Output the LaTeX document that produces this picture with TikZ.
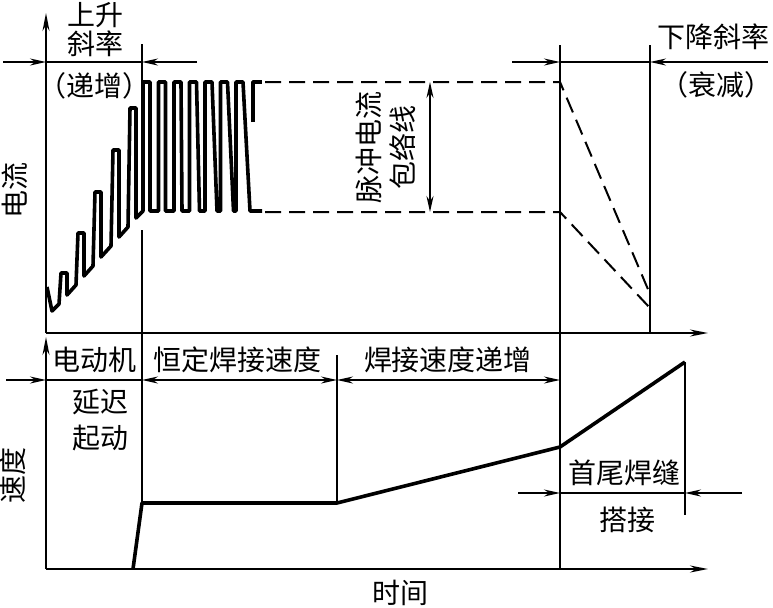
\documentclass[tikz,border=0pt]{standalone}
\usepackage{fontspec}
\newfontfamily\cjk{Noto Sans CJK SC}
\usetikzlibrary{arrows.meta}

\begin{document}
\begin{tikzpicture}[
    x=0.5pt, y=-0.5pt,
    every node/.style={font=\cjk\fontsize{14}{17}\selectfont, inner sep=0pt},
    guide/.style={line width=1pt},
    axis/.style={line width=1pt, -{Stealth[length=9pt, width=3.5pt]}},
    dimarrow/.style={line width=1pt, -{Stealth[length=8pt, width=3.5pt]}},
    dimboth/.style={line width=1pt, {Stealth[length=8pt, width=3.5pt]}-{Stealth[length=8pt, width=3.5pt]}},
    wave/.style={line width=1.8pt, line join=round},
    envelope/.style={line width=1pt, dash pattern=on 8pt off 4pt}
  ]
  \useasboundingbox (0,0) rectangle (773,607);

  % axes
  \coordinate (o1) at (46,333);
  \coordinate (y1) at (46,13);
  \coordinate (x1) at (708,333);
  \coordinate (o2) at (46,569);
  \coordinate (y2) at (46,337);
  \coordinate (x2) at (708,569);
  \draw[axis] (o1) -- (y1);
  \draw[axis] (o1) -- (x1);
  \draw[axis] (o2) -- (y2);
  \draw[axis] (o2) -- (x2);

  % vertical marks
  \coordinate (ta) at (142,44);  \coordinate (tb) at (142,82);
  \coordinate (tc) at (142,230); \coordinate (td) at (142,503);
  \coordinate (ea) at (560,45);  \coordinate (eb) at (560,569);
  \coordinate (fa) at (650,45);  \coordinate (fb) at (650,333);
  \coordinate (ma) at (337,355); \coordinate (mb) at (337,503);
  \coordinate (ka) at (685,362); \coordinate (kb) at (685,515);
  \draw[guide] (ta) -- (tb);
  \draw[guide] (tc) -- (td);
  \draw[guide] (ea) -- (eb);
  \draw[guide] (fa) -- (fb);
  \draw[guide] (ma) -- (mb);
  \draw[guide] (ka) -- (kb);

  % dimension lines, current
  \coordinate (r0) at (3,62);   \coordinate (r1) at (46,62);
  \coordinate (r2) at (142,62); \coordinate (r3) at (197,62);
  \draw[dimarrow] (r0) -- (r1);
  \draw[guide] (r1) -- (r2);
  \draw[dimarrow] (r3) -- (r2);
  \coordinate (s0) at (512,62); \coordinate (s1) at (560,62);
  \coordinate (s2) at (650,62); \coordinate (s3) at (768,62);
  \draw[dimarrow] (s0) -- (s1);
  \draw[guide] (s1) -- (s2);
  \draw[dimarrow] (s3) -- (s2);

  % dimension lines, speed
  \coordinate (v0) at (6,380);   \coordinate (v1) at (46,380);
  \coordinate (v2) at (142,380); \coordinate (v3) at (337,380);
  \coordinate (v4) at (560,380);
  \draw[dimarrow] (v0) -- (v1);
  \draw[guide] (v1) -- (v2);
  \draw[dimboth] (v2) -- (v3);
  \draw[dimboth] (v3) -- (v4);
  \coordinate (w0) at (518,493); \coordinate (w1) at (560,493);
  \coordinate (w2) at (685,493); \coordinate (w3) at (742,493);
  \draw[dimarrow] (w0) -- (w1);
  \draw[guide] (w1) -- (w2);
  \draw[dimarrow] (w3) -- (w2);

  % pulse current
  \draw[wave] (47,287) -- (52,311) -- (59,304) -- (61,273) -- (67,273) -- (67,295)
    -- (76,285) -- (78,233) -- (84,233) -- (84,276) -- (93,266) -- (95,192) -- (101,192)
    -- (101,257) -- (111,246) -- (113,150) -- (119,150) -- (119,237) -- (128,227)
    -- (130,108) -- (136,108) -- (136,218) -- (143,211)
    -- (143,82) -- (150,82) -- (150,211) -- (158.5,211) -- (158.5,82) -- (165.5,82)
    -- (165.5,211) -- (174,211) -- (174,82) -- (181,82) -- (182,211) -- (189.5,211)
    -- (189.5,82) -- (196.5,82) -- (199.5,211) -- (205,211) -- (205,82) -- (212,82)
    -- (217,211) -- (220.5,211) -- (220.5,82) -- (227.5,82) -- (233.5,211) -- (236,211)
    -- (236,82) -- (243,82) -- (250,211) -- (262,211);
  \draw[wave] (253,122) -- (253,82) -- (262,82);

  % envelope
  \coordinate (p1) at (265,82);  \coordinate (p2) at (560,82);
  \coordinate (q1) at (265,212); \coordinate (q2) at (560,212);
  \coordinate (p3) at (650,294); \coordinate (q3) at (650,308);
  \draw[envelope] (p1) -- (p2) -- (p3);
  \draw[envelope] (q1) -- (q2) -- (q3);
  \coordinate (h1) at (430,82); \coordinate (h2) at (430,212);
  \draw[dimboth] (h1) -- (h2);

  % welding speed
  \draw[wave] (133,569) -- (142,503) -- (337,503) -- (560,447) -- (685,362);

  % labels
  \node (up1) at (96,15) {上升};
  \node (up2) at (96,44) {斜率};
  \node (up3) at (95,86) {（递增）};
  \node (dn1) at (713,37) {下降斜率};
  \node (dn2) at (716,85) {（衰减）};
  \node[rotate=90, align=center] (env) at (386,147) {脉冲电流\\包络线};
  \node[rotate=90] (cur) at (15,190) {电流};
  \node[rotate=90] (spd) at (13,475) {速度};
  \node (mot) at (95,360) {电动机};
  \node (cst) at (238,360) {恒定焊接速度};
  \node (inc) at (448,360) {焊接速度递增};
  \node (dl1) at (101,402) {延迟};
  \node (dl2) at (101,438) {起动};
  \node (ov1) at (624,473) {首尾焊缝};
  \node (ov2) at (627,520) {搭接};
  \node (tim) at (400,593) {时间};
\end{tikzpicture}
\end{document}
